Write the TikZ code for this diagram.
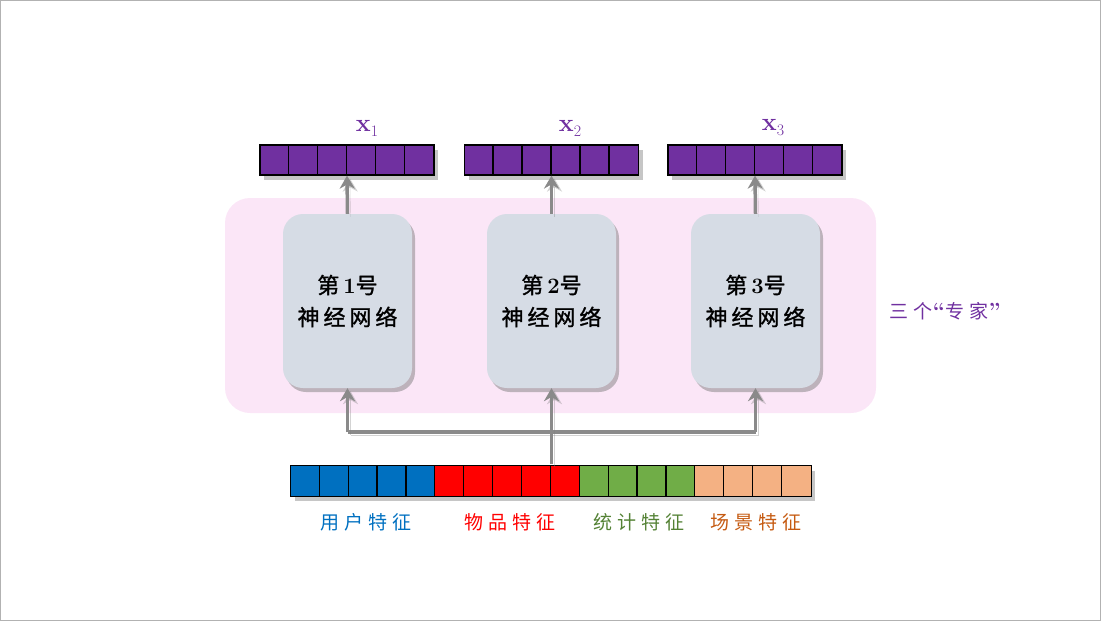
\documentclass[tikz,border=0pt]{standalone}
\usepackage{fontspec}
\newfontfamily\cjk[LetterSpace=18,FakeBold=1.2]{Noto Sans CJK SC}
\newfontfamily\cjkl[LetterSpace=26]{Noto Sans CJK SC}
\newfontfamily\cjkp[LetterSpace=30]{Noto Sans CJK SC}
\usetikzlibrary{arrows.meta,shadows,calc}
\definecolor{vpurple}{HTML}{7030A0}
\definecolor{fblue}{HTML}{0070C0}
\definecolor{fred}{HTML}{FF0000}
\definecolor{fgreen}{HTML}{70AD47}
\definecolor{forange}{HTML}{F4B183}
\definecolor{tgreen}{HTML}{548235}
\definecolor{torange}{HTML}{C55A11}
\definecolor{pinkbg}{HTML}{FBE6F7}
\definecolor{boxfill}{HTML}{D6DCE5}
\definecolor{arrowgray}{HTML}{8A8A8A}
\tikzset{
  vecbox/.style={draw=black, line width=1.2pt, minimum height=30pt, inner sep=0pt,
    drop shadow={shadow xshift=4pt, shadow yshift=-5pt, opacity=0.45, fill=gray}},
  expert/.style={fill=boxfill, rounded corners=20pt, minimum width=129pt, minimum height=174pt,
    inner sep=0pt, align=center, font=\fontsize{22}{32}\selectfont,
    drop shadow={shadow xshift=3pt, shadow yshift=-4pt, opacity=0.5, fill=gray}},
  arrshadow/.style={preaction={draw=gray, opacity=0.35, transform canvas={shift={(3pt,-3pt)}}}},
  uparrow/.style={arrshadow, draw=arrowgray, line width=3.5pt, -{Stealth[length=13pt,width=15pt]}},
  grayline/.style={arrshadow, draw=arrowgray, line width=3.5pt},
  xlabel/.style={text=vpurple, font=\fontsize{25}{28}\selectfont\bfseries},
  flabel/.style={font=\fontsize{19}{22}\selectfont},
}
\newcommand{\xlab}[1]{x\raisebox{-5pt}{\fontsize{16}{16}\selectfont\mdseries #1}}
\begin{document}
\begin{tikzpicture}[x=1pt,y=-1pt]
\useasboundingbox (0,0) rectangle (1101,621);
\draw[color=gray!60, line width=2pt] (0,0) rectangle (1101,621);

% pink background
\node[fill=pinkbg, rounded corners=25pt, minimum width=651pt, minimum height=215pt, inner sep=0pt] (bg) at (550.5,305.5) {};

% experts
\node[expert] (e1) at (347.5,301) {{\cjk 第}\textbf{1}{\cjk 号}\\{\cjk 神经网络}};
\node[expert] (e2) at (551.5,301) {{\cjk 第}\textbf{2}{\cjk 号}\\{\cjk 神经网络}};
\node[expert] (e3) at (755.5,301) {{\cjk 第}\textbf{3}{\cjk 号}\\{\cjk 神经网络}};

\node[text=vpurple, flabel] (lbl) at (945,311) {{\cjkp 三个}{\bfseries\fontsize{22}{22}\selectfont “}{\cjkp 专家}{\bfseries\fontsize{22}{22}\selectfont ”}};

% top vectors
\foreach \n/\cx in {v1/347, v2/551.5, v3/755} {
  \node[vecbox, fill=vpurple, minimum width=174pt] (\n) at (\cx,160) {};
  \foreach \i in {1,...,5}
    \draw[line width=1.2pt] ($(\n.north west)+(\i*29,0)$) -- ($(\n.south west)+(\i*29,0)$);
}
\node[xlabel] (x1) at (367,128) {\xlab{1}};
\node[xlabel] (x2) at (570,128) {\xlab{2}};
\node[xlabel] (x3) at (773,128) {\xlab{3}};

% arrows up
\draw[uparrow] (e1.north) -- (v1.south);
\draw[uparrow] (e2.north) -- (v2.south);
\draw[uparrow] (e3.north) -- (v3.south);

% bottom feature vector
\node[vecbox, fill=white, minimum width=520pt] (feat) at (551,481) {};
\fill[fblue] (feat.north west) rectangle ($(feat.south west)+(144.4,0)$);
\fill[fred] ($(feat.north west)+(144.4,0)$) rectangle ($(feat.south west)+(288.9,0)$);
\fill[fgreen] ($(feat.north west)+(288.9,0)$) rectangle ($(feat.south west)+(404.4,0)$);
\fill[forange] ($(feat.north west)+(404.4,0)$) rectangle (feat.south east);
\draw[line width=1.2pt] (feat.north west) rectangle (feat.south east);
\foreach \i in {1,...,17}
  \draw[line width=1.2pt] ($(feat.north west)+(\i*28.89,0)$) -- ($(feat.south west)+(\i*28.89,0)$);

% routing
\coordinate (j1) at (347.5,432);
\coordinate (j3) at (755.5,432);
\coordinate (fs) at (551.5,464);
\draw[grayline] (j1) -- (j3);
\draw[uparrow] (j1) -- (e1.south);
\draw[uparrow] (j3) -- (e3.south);
\draw[uparrow] (fs) -- (e2.south);

% labels
\node[flabel, text=fblue] (l1) at (366,522) {\cjkl 用户特征};
\node[flabel, text=fred] (l2) at (510,522) {\cjkl 物品特征};
\node[flabel, text=tgreen] (l3) at (639,522) {\cjkl 统计特征};
\node[flabel, text=torange] (l4) at (756,522) {\cjkl 场景特征};
\end{tikzpicture}
\end{document}
